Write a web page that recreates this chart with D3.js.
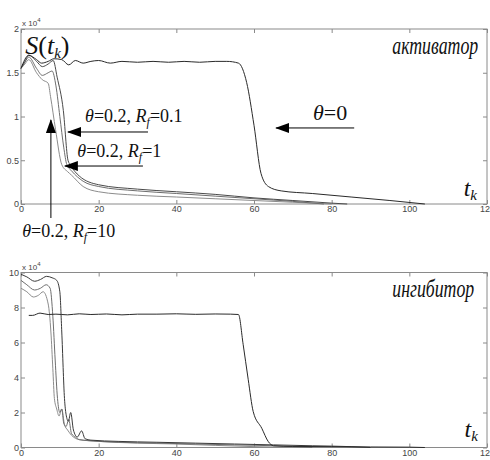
<!DOCTYPE html>
<html>
<head>
<meta charset="utf-8">
<script src="https://cdn.jsdelivr.net/npm/d3@7"></script>
<style>
  body { margin: 0; background: #fff; }
  svg { display: block; }
</style>
</head>
<body>
<div id="root"></div>
<script>
// activator S(t_k), units of 10^4
const tA0 = [0, 2, 4, 5.3, 7, 8.5, 10.5, 12.3, 14, 16, 18, 20, 23, 26, 30, 34, 38, 42, 46, 50, 53, 56, 58.1, 60, 61.8, 63.7, 67, 75, 85, 95, 104];
const vA0 = [1.55, 1.70, 1.65, 1.61, 1.63, 1.66, 1.65, 1.59, 1.64, 1.61, 1.63, 1.64, 1.61, 1.63, 1.62, 1.63, 1.62, 1.63, 1.62, 1.63, 1.63, 1.61, 1.39, 0.90, 0.35, 0.20, 0.15, 0.12, 0.08, 0.04, 0];

const tA1 = [0, 1, 2, 4, 5.5, 7, 8.3, 9.3, 10.9, 12.1, 12.8, 15, 20, 30, 40, 50, 60, 70, 80, 84];
const vA1 = [1.55, 1.63, 1.70, 1.63, 1.57, 1.60, 1.64, 1.45, 1.07, 0.50, 0.44, 0.32, 0.22, 0.17, 0.14, 0.11, 0.07, 0.04, 0.01, 0];

const tA2 = [0, 1, 2, 4, 5.5, 7, 8, 9, 10, 11, 11.8, 13, 16, 20, 30, 40, 50, 60, 70, 78];
const vA2 = [1.55, 1.62, 1.68, 1.55, 1.47, 1.50, 1.52, 1.35, 1.00, 0.65, 0.45, 0.38, 0.26, 0.20, 0.15, 0.12, 0.09, 0.06, 0.03, 0];

const tA3 = [0, 1, 2, 4, 5.5, 7, 7.6, 8.9, 10.5, 12, 13, 16, 20, 30, 40, 50, 60, 70, 80];
const vA3 = [1.55, 1.60, 1.65, 1.50, 1.42, 1.38, 1.23, 0.85, 0.45, 0.37, 0.33, 0.20, 0.14, 0.10, 0.08, 0.06, 0.04, 0.02, 0];

// inhibitor, units of 10^4
const tI0 = [2, 3, 4.9, 7, 9, 12, 15, 18, 22, 26, 30, 35, 40, 45, 50, 54, 56, 57.2, 58.5, 59.8, 62, 63.7, 65, 70, 80, 90, 100, 104];
const vI0 = [7.55, 7.55, 7.68, 7.60, 7.62, 7.58, 7.64, 7.60, 7.63, 7.58, 7.62, 7.62, 7.64, 7.61, 7.63, 7.62, 7.60, 5.9, 3.9, 2.05, 1.10, 0.33, 0.10, 0.06, 0.05, 0.03, 0.02, 0];

const tI1 = [0, 1.5, 3.5, 5, 6.6, 8, 9.2, 10, 10.5, 11.2, 11.6, 12.2, 12.8, 13.5, 14.5, 15.6, 16.5, 18, 25, 35, 45, 55, 65, 75, 85, 90];
const vI1 = [9.9, 9.75, 9.5, 9.6, 9.78, 9.7, 9.55, 8.9, 6.6, 2.8, 1.9, 1.5, 2.0, 1.0, 0.6, 0.95, 0.5, 0.42, 0.35, 0.3, 0.25, 0.2, 0.15, 0.1, 0.05, 0];

const tI2 = [0, 1.5, 3.5, 5, 6.5, 7.5, 8.2, 8.8, 9.4, 10, 10.5, 11, 11.6, 12.3, 13, 14, 15, 17, 25, 35, 45, 55, 65, 75];
const vI2 = [9.55, 9.3, 9.0, 9.1, 9.3, 9.1, 7.5, 5.0, 2.8, 2.0, 2.2, 1.4, 1.2, 1.6, 0.8, 0.6, 0.45, 0.4, 0.3, 0.25, 0.2, 0.15, 0.1, 0];

const tI3 = [0, 1.5, 3.2, 4.5, 5.7, 7, 7.7, 8.2, 8.6, 9.2, 9.8, 10.5, 11.2, 12, 13, 15, 20, 30, 40, 50, 60, 70];
const vI3 = [9.1, 8.9, 8.6, 8.7, 8.9, 8.2, 6.6, 4.5, 2.8, 2.2, 1.8, 2.2, 1.3, 1.0, 0.7, 0.45, 0.35, 0.25, 0.2, 0.12, 0.05, 0];

const xTicks = [0, 20, 40, 60, 80, 100, 120];
const yTicksA = [0, 0.5, 1, 1.5, 2];
const yTicksI = [0, 2, 4, 6, 8, 10];

const w = 490;
const h = 460;
const serif = '"Liberation Serif", "Times New Roman", serif';
const sans = '"Liberation Sans", Arial, sans-serif';

const svg = d3.select('#root')
  .append('svg')
  .attr('width', w)
  .attr('height', h);

// arrow head, tip pointing along the line direction
svg.append('defs').append('marker')
  .attr('id', 'head')
  .attr('viewBox', '0 0 14 10')
  .attr('refX', 13)
  .attr('refY', 5)
  .attr('markerWidth', 14)
  .attr('markerHeight', 10)
  .attr('markerUnits', 'userSpaceOnUse')
  .attr('orient', 'auto')
  .append('path')
  .attr('d', 'M0,0 L14,5 L0,10 Z')
  .attr('fill', '#000');

const x = d3.scaleLinear().domain([0, 120]).range([21, 487]);

const panel = (yDomain, yRange, yTicks, series) => {
  const y = d3.scaleLinear().domain(yDomain).range(yRange);
  const g = svg.append('g');

  g.append('rect')
    .attr('x', x(0))
    .attr('y', y(yDomain[1]))
    .attr('width', x(120) - x(0))
    .attr('height', y(0) - y(yDomain[1]))
    .attr('fill', 'none')
    .attr('stroke', '#8a8a8a')
    .attr('stroke-width', 1);

  const ax = (axis, tx, ty, labels) => {
    const a = g.append('g')
      .attr('transform', 'translate(' + tx + ',' + ty + ')')
      .call(axis.tickSizeInner(-4).tickSizeOuter(0).tickPadding(2)
        .tickFormat(labels ? d3.format('') : ''));
    a.select('.domain').remove();
    a.selectAll('line').attr('stroke', '#8a8a8a');
    a.selectAll('text')
      .attr('font-family', sans)
      .attr('font-size', '9px')
      .attr('fill', '#444');
    return a;
  };
  ax(d3.axisBottom(x).tickValues(xTicks), 0, y(0), true);
  ax(d3.axisTop(x).tickValues(xTicks), 0, y(yDomain[1]), false);
  ax(d3.axisLeft(y).tickValues(yTicks), x(0), 0, true);
  ax(d3.axisRight(y).tickValues(yTicks), x(120), 0, false);

  // exponent label
  const ex = g.append('text')
    .attr('x', x(0) + 1)
    .attr('y', y(yDomain[1]) - 3)
    .attr('font-family', sans)
    .attr('font-size', '8px')
    .attr('fill', '#444');
  ex.append('tspan').text('x 10');
  ex.append('tspan').attr('font-size', '6px').attr('dy', -4).text('4');

  const line = d3.line()
    .x(d => x(d[0]))
    .y(d => y(d[1]))
    .curve(d3.curveMonotoneX);

  g.selectAll('path.curve')
    .data(series)
    .enter()
    .append('path')
    .attr('class', 'curve')
    .attr('d', d => line(d3.zip(d.t, d.v)))
    .attr('fill', 'none')
    .attr('stroke', d => d.color)
    .attr('stroke-width', 1);

  return y;
};

const yA = panel([0, 2], [204, 29], yTicksA, [
  { t: tA3, v: vA3, color: '#8c8c8c' },
  { t: tA2, v: vA2, color: '#6e6e6e' },
  { t: tA1, v: vA1, color: '#4a4a4a' },
  { t: tA0, v: vA0, color: '#2a2a2a' }
]);

const yI = panel([0, 10], [447.5, 272.5], yTicksI, [
  { t: tI3, v: vI3, color: '#8c8c8c' },
  { t: tI2, v: vI2, color: '#6e6e6e' },
  { t: tI1, v: vI1, color: '#3a3a3a' },
  { t: tI0, v: vI0, color: '#2a2a2a' }
]);

// arrows (data coordinates of the top panel)
const arrows = [
  [[32.7, 0.823], [12.1, 0.823]],
  [[31.4, 0.434], [11.3, 0.434]],
  [[85.8, 0.869], [65.7, 0.869]],
  [[7.7, -0.16], [7.7, 0.96]]
];
svg.selectAll('line.arrow')
  .data(arrows)
  .enter()
  .append('line')
  .attr('class', 'arrow')
  .attr('x1', d => x(d[0][0]))
  .attr('y1', d => yA(d[0][1]))
  .attr('x2', d => x(d[1][0]))
  .attr('y2', d => yA(d[1][1]))
  .attr('stroke', '#000')
  .attr('stroke-width', 1)
  .attr('marker-end', 'url(#head)');

const label = (px, py, size, parts) => {
  const t = svg.append('text')
    .attr('x', px)
    .attr('y', py)
    .attr('font-family', serif)
    .attr('font-size', size + 'px')
    .attr('fill', '#111');
  parts.forEach(p => {
    const s = t.append('tspan').text(p.s);
    if (p.i) s.attr('font-style', 'italic');
    if (p.dy) s.attr('dy', p.dy);
    if (p.fs) s.attr('font-size', p.fs + 'px');
  });
  return t;
};

const thetaRf = (px, py, rf) => label(px, py, 18, [
  { s: 'θ', i: true },
  { s: '=0.2, ' },
  { s: 'R', i: true },
  { s: 'f', i: true, fs: 12, dy: 4 },
  { s: '=' + rf, dy: -4 }
]);
thetaRf(x(16.5), yA(0.94), '0.1');
thetaRf(x(14.5), yA(0.54), '1');
thetaRf(x(0.3), 237, '10');
label(x(75.2), yA(0.96), 22, [{ s: 'θ', i: true }, { s: '=0' }]);

label(x(1.1), yA(1.72), 26, [
  { s: 'S', i: true },
  { s: '(' },
  { s: 't', i: true },
  { s: 'k', i: true, fs: 15, dy: 4 },
  { s: ')', dy: -4 }
]);

label(x(114), yA(0.09), 24, [{ s: 't', i: true }, { s: 'k', i: true, fs: 15, dy: 4 }]);
label(x(114.2), yI(0.6), 24, [{ s: 't', i: true }, { s: 'k', i: true, fs: 15, dy: 4 }]);

label(x(95.6), yA(1.71), 26, [{ s: 'активатор', i: true }])
  .attr('textLength', 86).attr('lengthAdjust', 'spacingAndGlyphs');
label(x(95.6), yI(8.6), 26, [{ s: 'ингибитор', i: true }])
  .attr('textLength', 82).attr('lengthAdjust', 'spacingAndGlyphs');
</script>
</body>
</html>
